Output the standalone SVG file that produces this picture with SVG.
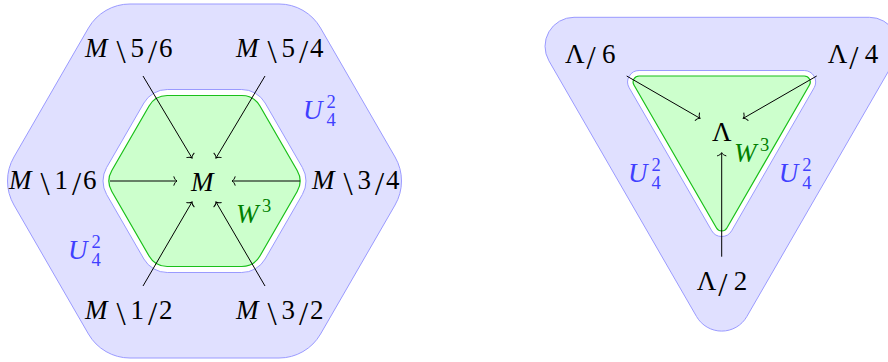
<svg xmlns="http://www.w3.org/2000/svg" width="888" height="362" viewBox="0 0 888 362">
<style>
.reg{fill:#e0e0ff;stroke:#9a9aff;stroke-width:1;fill-rule:evenodd}
.grn{fill:#ccffcc;stroke:#19c019;stroke-width:1.2}
.i{font-style:italic}
.s{font-size:18.5px;font-style:normal}
.b{font-size:33px}
.u{fill:#4040ff}
.w{fill:#008000}
.c line{stroke:#000;stroke-width:1;marker-end:url(#to)}
</style>
<defs>
<marker id="to" markerUnits="userSpaceOnUse" viewBox="-6 -6 8 12" refX="0" refY="0" markerWidth="8" markerHeight="12" orient="auto">
<path d="M-3.2,-4.6 C-2.6,-2.2 -1.2,-0.6 0,0 C-1.2,0.6 -2.6,2.2 -3.2,4.6" fill="none" stroke="#000" stroke-width="1"/>
</marker>
</defs>
<g id="hexagon-regions">
<path class="reg" d="M130,4 L279,4 A48,48 0 0 1 320.55,28 L395.05,157 A48,48 0 0 1 395.05,205 L320.55,334 A48,48 0 0 1 279,358 L130,358 A48,48 0 0 1 88.45,334 L13.95,205 A48,48 0 0 1 13.95,157 L88.45,28 A48,48 0 0 1 130,4 Z M167.26,89.5 L241.74,89.5 A27,27 0 0 1 265.12,103 L302.37,167.5 A27,27 0 0 1 302.37,194.5 L265.12,259 A27,27 0 0 1 241.74,272.5 L167.26,272.5 A27,27 0 0 1 143.88,259 L106.63,194.5 A27,27 0 0 1 106.63,167.5 L143.88,103 A27,27 0 0 1 167.26,89.5 Z"/>
<path class="grn" d="M167.25,95.5 L241.75,95.5 A21,21 0 0 1 259.93,106 L297.17,170.5 A21,21 0 0 1 297.17,191.5 L259.93,256 A21,21 0 0 1 241.75,266.5 L167.25,266.5 A21,21 0 0 1 149.07,256 L111.83,191.5 A21,21 0 0 1 111.83,170.5 L149.07,106 A21,21 0 0 1 167.25,95.5 Z"/>
</g>
<g id="triangle-regions">
<path class="reg" d="M574.03,17.3 L869.37,17.3 A29,29 0 0 1 894.49,60.8 L746.81,316.6 A29,29 0 0 1 696.59,316.6 L548.91,60.8 A29,29 0 0 1 574.03,17.3 Z M639.14,70.5 L804.26,70.5 A11.5,11.5 0 0 1 814.14,87.75 L731.66,230.75 A11.5,11.5 0 0 1 711.74,230.75 L629.18,87.75 A11.5,11.5 0 0 1 639.14,70.5 Z"/>
<path class="grn" d="M639.14,76 L804.26,76 A6,6 0 0 1 809.45,85 L726.9,228 A6,6 0 0 1 716.5,228 L633.95,85 A6,6 0 0 1 639.14,76 Z"/>
</g>
<g id="connectors" class="c">
<line x1="143" y1="76" x2="192" y2="158"/>
<line x1="265" y1="76" x2="216" y2="158"/>
<line x1="110" y1="181" x2="177" y2="181"/>
<line x1="300" y1="181" x2="232" y2="181"/>
<line x1="143" y1="286" x2="192" y2="202"/>
<line x1="265" y1="286" x2="216" y2="202"/>
<line x1="626.7" y1="76" x2="700" y2="118.3"/>
<line x1="816.7" y1="76" x2="743.3" y2="118.3"/>
<line x1="721.7" y1="256.7" x2="721.7" y2="152.7"/>
</g>
<g font-family="'Liberation Serif', 'Times New Roman', serif" font-size="27" fill="#000">
<g id="M"><text class="i" x="191" y="190.5">M</text></g>
<g id="M-5-6"><text y="57"><tspan class="i" x="85">M</tspan><tspan class="b" x="116.5" y="63">\</tspan><tspan x="130.5" y="57">5</tspan><tspan class="b" x="148" y="63">/</tspan><tspan x="159" y="57">6</tspan></text></g>
<g id="M-5-4"><text y="57"><tspan class="i" x="236">M</tspan><tspan class="b" x="267.5" y="63">\</tspan><tspan x="281.5" y="57">5</tspan><tspan class="b" x="299" y="63">/</tspan><tspan x="310" y="57">4</tspan></text></g>
<g id="M-1-6"><text y="189"><tspan class="i" x="9">M</tspan><tspan class="b" x="40.5" y="195">\</tspan><tspan x="54.5" y="189">1</tspan><tspan class="b" x="72" y="195">/</tspan><tspan x="83" y="189">6</tspan></text></g>
<g id="M-3-4"><text y="189"><tspan class="i" x="312">M</tspan><tspan class="b" x="343.5" y="195">\</tspan><tspan x="357.5" y="189">3</tspan><tspan class="b" x="375" y="195">/</tspan><tspan x="386" y="189">4</tspan></text></g>
<g id="M-1-2"><text y="319"><tspan class="i" x="85">M</tspan><tspan class="b" x="116.5" y="325">\</tspan><tspan x="130.5" y="319">1</tspan><tspan class="b" x="148" y="325">/</tspan><tspan x="159" y="319">2</tspan></text></g>
<g id="M-3-2"><text y="319"><tspan class="i" x="236">M</tspan><tspan class="b" x="267.5" y="325">\</tspan><tspan x="281.5" y="319">3</tspan><tspan class="b" x="299" y="325">/</tspan><tspan x="310" y="319">2</tspan></text></g>
<g id="U-hex-1"><text class="u"><tspan class="i" x="303" y="119">U</tspan><tspan class="s" x="326.5" y="108">2</tspan><tspan class="s" x="326.5" y="126">4</tspan></text></g>
<g id="U-hex-2"><text class="u"><tspan class="i" x="68" y="259">U</tspan><tspan class="s" x="91.5" y="248">2</tspan><tspan class="s" x="91.5" y="266">4</tspan></text></g>
<g id="W-hex"><text class="w"><tspan class="i" x="236" y="223">W</tspan><tspan class="s" x="262" y="212">3</tspan></text></g>
<g id="Lambda"><text x="712" y="140.5">Λ</text></g>
<g id="Lambda-6"><text y="63"><tspan x="565">Λ</tspan><tspan class="b" x="586.5" y="69">/</tspan><tspan x="602" y="63">6</tspan></text></g>
<g id="Lambda-4"><text y="63"><tspan x="827.7">Λ</tspan><tspan class="b" x="849.2" y="69">/</tspan><tspan x="864.7" y="63">4</tspan></text></g>
<g id="Lambda-2"><text y="290"><tspan x="696.7">Λ</tspan><tspan class="b" x="718.2" y="296">/</tspan><tspan x="733.7" y="290">2</tspan></text></g>
<g id="U-tri-1"><text class="u"><tspan class="i" x="628" y="182">U</tspan><tspan class="s" x="651.5" y="171">2</tspan><tspan class="s" x="651.5" y="189">4</tspan></text></g>
<g id="U-tri-2"><text class="u"><tspan class="i" x="778.7" y="182">U</tspan><tspan class="s" x="802.2" y="171">2</tspan><tspan class="s" x="802.2" y="189">4</tspan></text></g>
<g id="W-tri"><text class="w"><tspan class="i" x="734" y="161.5">W</tspan><tspan class="s" x="760" y="151">3</tspan></text></g>
</g>
</svg>
